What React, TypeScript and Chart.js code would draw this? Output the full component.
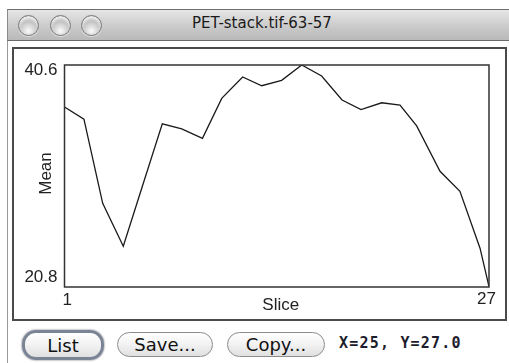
import React, { useEffect, useRef } from "react";
import { Chart, registerables } from "chart.js";

Chart.register(...registerables);

const sliceValues = [1, 2.19, 3.34, 4.6, 5.75, 6.99, 8.18, 9.45, 10.63, 11.91, 13.08, 14.3, 15.53, 16.75, 18.0, 19.16, 20.43, 21.55, 22.57, 24.0, 25.22, 26.45, 27];
const meanValues = [36.85, 35.77, 28.26, 24.44, 29.7, 35.35, 34.9, 34.06, 37.62, 39.53, 38.75, 39.23, 40.6, 39.62, 37.48, 36.63, 37.23, 37.03, 35.17, 31.12, 29.33, 24.26, 20.84];
const xRange = [1, 27];
const yRange = [20.8, 40.6];
const xTickLabels = ["1", "27"];
const yTickLabels = ["40.6", "20.8"];
const xTitle = "Slice";
const yTitle = "Mean";
const windowTitle = "PET-stack.tif-63-57";
const buttonLabels = ["List", "Save...", "Copy..."];
const statusText = "X=25, Y=27.0";

const labelPlugin = {
  id: "imagejLabels",
  afterDraw(chart: any) {
    const ctx = chart.ctx;
    const { left, top, right, bottom } = chart.chartArea;
    const xs = chart.scales.x;
    const ys = chart.scales.y;
    ctx.save();
    ctx.strokeStyle = "#333";
    ctx.lineWidth = 1.5;
    ctx.strokeRect(left, top, right - left, bottom - top);
    ctx.fillStyle = "#222";
    ctx.font = "17px 'Liberation Sans', Arial, sans-serif";
    ctx.textBaseline = "alphabetic";
    ctx.textAlign = "right";
    ctx.fillText(yTickLabels[0], left - 7, ys.getPixelForValue(yRange[1]) + 10);
    ctx.fillText(yTickLabels[1], left - 7, ys.getPixelForValue(yRange[0]) - 5);
    ctx.textAlign = "left";
    ctx.fillText(xTickLabels[0], xs.getPixelForValue(xRange[0]) - 2, bottom + 18);
    ctx.textAlign = "right";
    ctx.fillText(xTickLabels[1], xs.getPixelForValue(xRange[1]) + 7, bottom + 17);
    ctx.textAlign = "center";
    ctx.fillText(xTitle, (left + right) / 2 + 4, bottom + 23);
    ctx.translate(left - 13.5, (top + bottom) / 2 - 2.5);
    ctx.rotate(-Math.PI / 2);
    ctx.fillText(yTitle, 0, 0);
    ctx.restore();
  },
};

function PlotCanvas() {
  const ref = useRef<HTMLCanvasElement | null>(null);
  useEffect(() => {
    if (!ref.current) return;
    const chart = new Chart(ref.current, {
      type: "line",
      data: {
        datasets: [
          {
            data: sliceValues.map((x, i) => ({ x, y: meanValues[i] })),
            borderColor: "#1a1a1a",
            borderWidth: 1.3,
            pointRadius: 0,
            tension: 0,
            fill: false,
          },
        ],
      },
      options: {
        responsive: false,
        animation: false,
        devicePixelRatio: 1,
        layout: { padding: { left: 50.5, top: 16, right: 16, bottom: 32 } },
        plugins: { legend: { display: false }, tooltip: { enabled: false } },
        scales: {
          x: { type: "linear", min: xRange[0], max: xRange[1], display: false },
          y: { type: "linear", min: yRange[0], max: yRange[1], display: false },
        },
      },
      plugins: [labelPlugin],
    });
    return () => chart.destroy();
  }, []);
  return <canvas ref={ref} width={491} height={270} style={{ position: "absolute", left: 14, top: 49, width: 491, height: 270 }} />;
}

const circle = (cx: number): React.CSSProperties => ({
  position: "absolute",
  left: cx - 10.5,
  top: 14.5,
  width: 21,
  height: 21,
  borderRadius: "50%",
  boxSizing: "border-box",
  border: "1px solid #7a7a7a",
  background: "radial-gradient(circle at 50% 78%, #fafafa 0%, #d0d0d0 40%, #a0a0a0 85%, #8c8c8c 100%)",
  boxShadow: "inset 0 3px 3px rgba(255,255,255,0.85), 0 1px 1px rgba(255,255,255,0.6)",
});

const btnBase: React.CSSProperties = {
  position: "absolute",
  boxSizing: "border-box",
  borderRadius: 14,
  background: "linear-gradient(#ffffff, #f2f2f2 50%, #e0e0e0)",
  font: "18px 'DejaVu Sans', sans-serif",
  color: "#111",
  display: "flex",
  alignItems: "center",
  justifyContent: "center",
};

export default function App() {
  const buttons = [
    { left: 22, top: 330, width: 82, height: 30, extra: { border: "3px solid #7a8494", boxShadow: "0 0 2px #556" } },
    { left: 117, top: 332, width: 96, height: 25, extra: { border: "1px solid #8c8c8c" } },
    { left: 227, top: 332, width: 98, height: 25, extra: { border: "1px solid #8c8c8c" } },
  ];
  return (
    <div style={{ position: "fixed", left: 0, top: 0, width: 509, height: 363, background: "#fff", overflow: "hidden" }}>
      <div
        style={{
          position: "absolute",
          left: 7,
          top: 9,
          width: 510,
          height: 32,
          boxSizing: "border-box",
          borderTop: "1px solid #6e6e6e",
          borderLeft: "1px solid #8a8a8a",
          borderBottom: "1px solid #6a6a6a",
          background: "linear-gradient(#e6e6e6, #c8c8c8 60%, #b9b9b9)",
        }}
      />
      <div style={circle(28)} />
      <div style={circle(60)} />
      <div style={circle(91)} />
      <div
        style={{
          position: "absolute",
          left: 120,
          top: 13,
          width: 284,
          textAlign: "center",
          font: "15px 'DejaVu Sans', sans-serif",
          color: "#1a1a1a",
          lineHeight: "20px",
        }}
      >
        {windowTitle}
      </div>
      <div style={{ position: "absolute", left: 7, top: 41, width: 1, height: 322, background: "#9a9a9a" }} />
      <div
        style={{
          position: "absolute",
          left: 12,
          top: 47,
          width: 495,
          height: 274,
          boxSizing: "border-box",
          border: "2px solid #4a4a4a",
          background: "#fff",
        }}
      />
      <PlotCanvas />
      {buttons.map((b, i) => (
        <div key={i} style={{ ...btnBase, left: b.left, top: b.top, width: b.width, height: b.height, ...b.extra }}>
          {buttonLabels[i]}
        </div>
      ))}
      <div
        style={{
          position: "absolute",
          left: 339,
          top: 334,
          font: "bold 15px 'DejaVu Sans Mono', monospace",
          letterSpacing: "1.2px",
          color: "#1c1c2c",
          whiteSpace: "pre",
          lineHeight: "18px",
        }}
      >
        {statusText}
      </div>
    </div>
  );
}
